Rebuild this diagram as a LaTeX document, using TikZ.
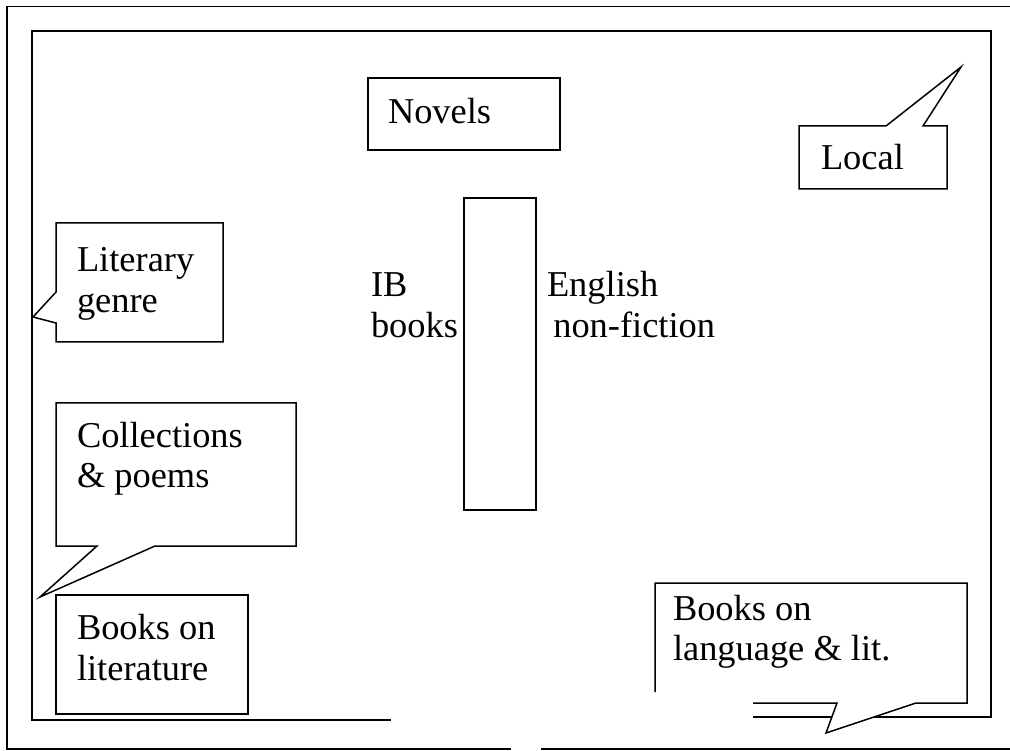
\documentclass[tikz,border=0pt]{standalone}
\usepackage{fontspec}
\setmainfont{Liberation Serif}
\tikzset{
  frameline/.style={line width=1.5pt, line join=miter, line cap=butt},
  boxline/.style={line width=1.5pt, line join=miter, fill=white},
  lbl/.style={anchor=base west, inner sep=0pt, outer sep=0pt,
    font=\fontsize{36.4}{40.5}\selectfont},
}
\newcommand{\twolines}[2]{\begin{tabular}[t]{@{}l@{}}#1\\#2\end{tabular}}
\begin{document}
\begin{tikzpicture}[x=1pt,y=-1pt]
\useasboundingbox (0,0) rectangle (1010,751);
% outer frame
\coordinate (o1) at (511,749);
\coordinate (o2) at (7,749);
\coordinate (o3) at (7,6.5);
\coordinate (o4) at (1010,6.5);
\coordinate (o5) at (541,749);
\coordinate (o6) at (1010,749);
\draw[frameline] (o1) -- (o2) -- (o3) -- (o4);
\draw[frameline] (o5) -- (o6);
% inner frame
\coordinate (i1) at (391,720);
\coordinate (i2) at (32,720);
\coordinate (i3) at (32,31);
\coordinate (i4) at (991,31);
\coordinate (i5) at (991,717);
\coordinate (i6) at (753,717);
\draw[frameline] (i1) -- (i2) -- (i3) -- (i4) -- (i5) -- (i6);
% Novels box
\draw[boxline] (368,78) rectangle (560,150);
% Local callout
\draw[boxline] (799,126) -- (886,126) -- (961,67) -- (923,126) -- (947,126)
  -- (947,189) -- (799,189) -- cycle;
% Literary genre callout
\draw[boxline] (56,223) -- (223,223) -- (223,342) -- (56,342) -- (56,323)
  -- (33,317) -- (56,292) -- cycle;
% Collections callout
\draw[boxline] (56,403) -- (296,403) -- (296,546) -- (155,546) -- (40,597)
  -- (97,546) -- (56,546) -- cycle;
% Books on literature box
\draw[boxline] (56,595) rectangle (248,714);
% central shelf
\draw[boxline] (464,198) rectangle (536,510);
% right callout
\fill[white] (655,583) -- (967,583) -- (967,703) -- (916,703) -- (826,733)
  -- (837,703) -- (655,703) -- cycle;
\draw[frameline] (655,692) -- (655,583) -- (967,583) -- (967,703) -- (916,703)
  -- (826,733) -- (837,703) -- (753,703);
% texts
\node[lbl] (novels) at (388,124) {Novels};
\node[lbl] (local) at (821,170) {Local};
\node[lbl] (literary) at (77,272) {\twolines{Literary}{genre}};
\node[lbl] (collections) at (77,447) {\twolines{Collections}{\& poems}};
\node[lbl] (bookslit) at (77,639.5) {\twolines{Books on}{literature}};
\node[lbl] (ib) at (371,297) {\twolines{IB}{books}};
\node[lbl] (english) at (547,297) {\twolines{English}{\hspace*{6.3pt}non-fiction}};
\node[lbl] (bookslang) at (673,620) {\twolines{Books on}{language \& lit.}};
\end{tikzpicture}
\end{document}
